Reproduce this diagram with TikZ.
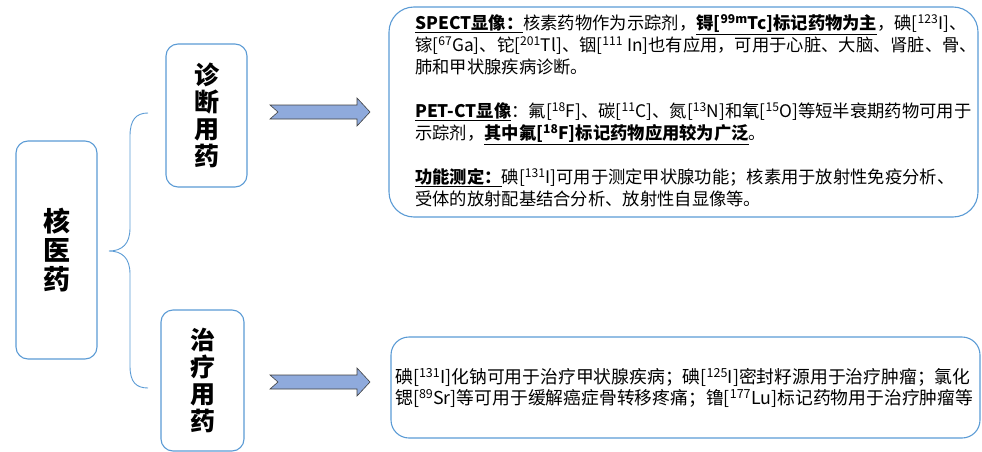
\documentclass[tikz,border=0pt]{standalone}
\usepackage{fontspec}
\setmainfont{Noto Sans CJK SC}
\usepackage{tikz}
\usetikzlibrary{positioning}
\definecolor{boxblue}{RGB}{91,155,213}
\definecolor{arrowfill}{RGB}{143,170,220}
\definecolor{arrowedge}{RGB}{64,64,64}
\newcommand{\hl}[1]{\underline{\textbf{#1}}}

\begin{document}
\begin{tikzpicture}[x=1pt,y=1pt,yscale=-1,xscale=1,
	catbox/.style={draw=boxblue,line width=1.1pt,fill=white,rounded corners=12pt,inner sep=0pt,align=center},
	infobox/.style={draw=boxblue,line width=1.1pt,rounded corners=#1},
	bigarrow/.style={fill=arrowfill,draw=arrowedge,line width=0.6pt},
	vtext/.style={font=\fontsize{25}{27}\selectfont\bfseries}]
	\useasboundingbox (0,0) rectangle (982,452);

	%Shape: Rounded Rect [root]
	\node [catbox,minimum width=81pt,minimum height=218pt,font=\fontsize{27}{29}\selectfont\bfseries] (root) at (56.5,250) {核\\医\\药};
	%Shape: Rounded Rect [diag]
	\node [catbox,minimum width=81pt,minimum height=143pt,vtext] (diag) at (206.5,115.5) {诊\\断\\用\\药};
	%Shape: Rounded Rect [ther]
	\node [catbox,minimum width=83pt,minimum height=141pt,vtext] (ther) at (202.5,380.5) {治\\疗\\用\\药};

	%Brace
	\coordinate (bt) at (148,113);
	\coordinate (bm) at (109,251);
	\coordinate (bb) at (148,388);
	\draw [boxblue,line width=0.9pt] (bt) .. controls (136,113) and (130,120) .. (130,136) -- (130,228) .. controls (130,244) and (122,251) .. (bm) .. controls (122,251) and (130,258) .. (130,274) -- (130,366) .. controls (130,382) and (136,388) .. (bb);

	%Shape: Notched Arrows
	\draw [bigarrow] (270,105) -- (357,105) -- (357,98) -- (370,112) -- (357,126) -- (357,119) -- (270,119) -- (278,112) -- cycle;
	\draw [bigarrow] (270,375) -- (357,375) -- (357,368) -- (370,382) -- (357,396) -- (357,389) -- (270,389) -- (278,382) -- cycle;

	%Shape: Rounded Rect [diaginfo]
	\draw [infobox=25pt] (389,7) rectangle (978,217);
	%Shape: Rounded Rect [therinfo]
	\draw [infobox=18pt] (391,337) rectangle (980,438);

	% Text Node
	\node [anchor=north west,inner sep=0pt,align=left,font=\fontsize{17.3}{22}\selectfont] (diagtext) at (415,14)
	{\hl{SPECT显像：}核素药物作为示踪剂，\hl{锝[\textsuperscript{99m}Tc]标记药物为主}，碘[\textsuperscript{123}I]、\\
	镓[\textsuperscript{67}Ga]、铊[\textsuperscript{201}Tl]、铟[\textsuperscript{111} In]也有应用，可用于心脏、大脑、肾脏、骨、\\
	肺和甲状腺疾病诊断。\\[22pt]
	\hl{PET-CT显像}：氟[\textsuperscript{18}F]、碳[\textsuperscript{11}C]、氮[\textsuperscript{13}N]和氧[\textsuperscript{15}O]等短半衰期药物可用于\\
	示踪剂，\hl{其中氟[\textsuperscript{18}F]标记药物应用较为广泛}。\\[22pt]
	\hl{功能测定：}碘[\textsuperscript{131}I]可用于测定甲状腺功能；核素用于放射性免疫分析、\\
	受体的放射配基结合分析、放射性自显像等。};
	% Text Node
	\node [anchor=west,inner sep=0pt,align=left,font=\fontsize{17.8}{20.5}\selectfont] (thertext) at (395,388)
	{碘[\textsuperscript{131}I]化钠可用于治疗甲状腺疾病；碘[\textsuperscript{125}I]密封籽源用于治疗肿瘤；氯化\\
	锶[\textsuperscript{89}Sr]等可用于缓解癌症骨转移疼痛；镥[\textsuperscript{177}Lu]标记药物用于治疗肿瘤等};

\end{tikzpicture}
\end{document}
